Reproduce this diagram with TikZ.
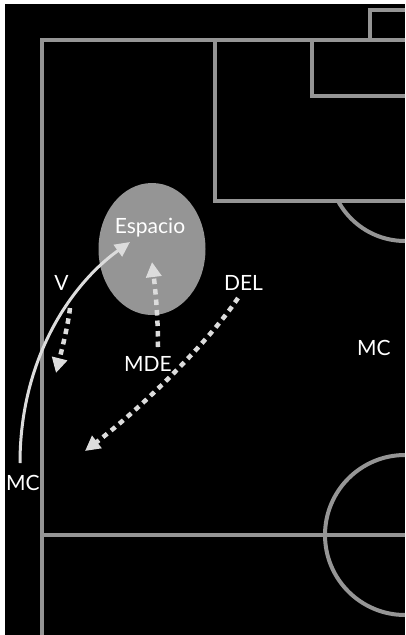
\documentclass[tikz,border=0pt]{standalone}
\usepackage{fontspec}
\setmainfont{Lato}
\usetikzlibrary{arrows.meta,shapes.geometric}
\definecolor{pitch}{HTML}{959595}
\definecolor{arr}{HTML}{DCDCDC}
\begin{document}
\begin{tikzpicture}[x=1pt,y=-1pt,
  pline/.style={draw=pitch,line width=4pt},
  lbl/.style={text=white,font=\fontsize{21}{21}\selectfont,anchor=base,inner sep=0pt},
  run/.style={draw=arr,line width=3pt,-{Triangle[length=15pt,width=14pt]}},
  mov/.style={draw=arr,line width=4.5pt,dash pattern=on 5.5pt off 5pt,-{Triangle[length=15pt,width=15pt]}}]
\useasboundingbox (0,0) rectangle (405,635);
\fill[white] (0,0) rectangle (405,635);
\fill[black] (5,4) rectangle (405,635);
\begin{scope}
  \clip (5,4) rectangle (405,635);
  % touchline and goal line
  \draw[pline] (42,640) -- (42,40) -- (410,40);
  % penalty box
  \draw[pline] (215,40) -- (215,201) -- (410,201);
  % goal area
  \draw[pline] (312,40) -- (312,96) -- (410,96);
  % goal
  \draw[pline] (370,40) -- (370,10) -- (410,10);
  % penalty arc
  \begin{scope}
    \clip (215,201) rectangle (405,400);
    \draw[pline] (405,165) circle[radius=76pt];
  \end{scope}
  % halfway line and centre circle
  \draw[pline] (42,535) -- (410,535);
  \draw[pline] (405,535) circle[radius=80pt];
\end{scope}
% space
\node[ellipse,fill=pitch,minimum width=107pt,minimum height=132pt,inner sep=0pt] (esp) at (152,249) {};
\node[lbl] (tesp) at (150,233) {Espacio};
% labels
\node[lbl] (v) at (61.5,290) {V};
\node[lbl] (del) at (243.5,290) {DEL};
\node[lbl] (mde) at (148,371.5) {MDE};
\node[lbl] (mcr) at (374,355) {MC};
\node[lbl] (mcl) at (23,490) {MC};
% arrow ends
\coordinate (mcs) at (20,463);
\coordinate (mce) at (130,242);
\coordinate (vs) at (70,308);
\coordinate (ve) at (56,373);
\coordinate (mdes) at (158,347);
\coordinate (mdee) at (152,262);
\coordinate (dels) at (238,298);
\coordinate (dele) at (85,451);
% runs
\draw[run] (mcs) .. controls (20,360) and (70,285) .. (mce);
\draw[mov] (vs) .. controls (68,325) and (63,345) .. (ve);
\draw[mov] (mdes) .. controls (158,320) and (156,295) .. (mdee);
\draw[mov] (dels) .. controls (210,340) and (145,405) .. (dele);
\end{tikzpicture}
\end{document}
